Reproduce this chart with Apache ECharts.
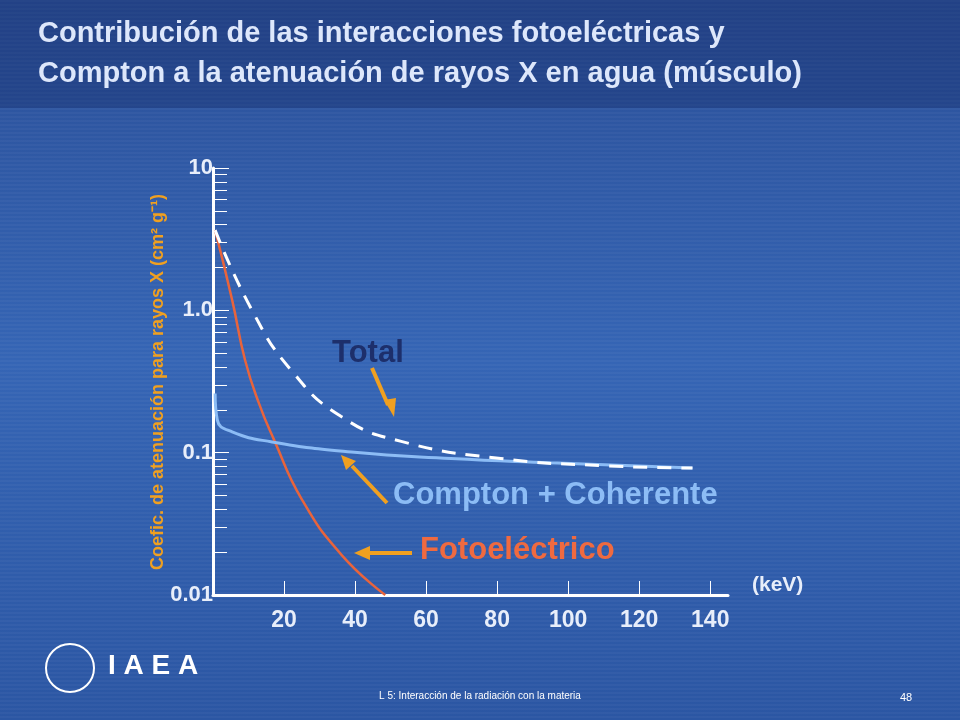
<!DOCTYPE html>
<html>
<head>
<meta charset="utf-8">
<script src="https://cdn.jsdelivr.net/npm/echarts@6/dist/echarts.min.js"></script>
<style>html,body{margin:0;padding:0;background:#2f5aa8;}#main{width:960px;height:720px;}</style>
</head>
<body>
<div id="main"></div>
<script>
// values (keV, cm2/g)
var fotoData = [[0.6, 3.66], [5.4, 1.18], [9, 0.45], [13, 0.22], [17.2, 0.123], [25, 0.047], [36.3, 0.019], [48.5, 0.01]];
var comptonData = [[0.6, 0.26], [1.2, 0.17], [5.4, 0.14], [16.6, 0.119], [39, 0.101], [67, 0.091], [95, 0.085], [135, 0.078]];
var totalData = [[0.6, 3.66], [11, 1.0], [22, 0.38], [36, 0.18], [53, 0.12], [81, 0.091], [110, 0.081], [135, 0.078]];
var yLabels = {10: '10', 1: '1.0', 0.1: '0.1', 0.01: '0.01'};

var FONT = 'Liberation Sans';
var chart = echarts.init(document.getElementById('main'));

function txt(x, y, s, color, size, extra) {
    var st = {text: s, fill: color, fontFamily: FONT, fontSize: size, fontWeight: 'bold'};
    for (var k in (extra || {})) st[k] = extra[k];
    return {type: 'text', x: x, y: y, style: st};
}

// striped background
var stripes = [];
for (var i = 0; i < 720; i += 4) {
    stripes.push({type: 'rect', shape: {x: 0, y: i, width: 960, height: 2}, style: {fill: 'rgba(255,255,255,0.035)'}, silent: true});
}

var yTitle = txt(158, 382, 'Coefic. de atenuación para rayos X (cm² g⁻¹)', '#f0a020', 18, {align: 'center', verticalAlign: 'middle'});
yTitle.rotation = Math.PI / 2;

var option = {
    backgroundColor: {
        type: 'linear', x: 0, y: 0, x2: 0, y2: 1,
        colorStops: [{offset: 0, color: '#2a4f98'}, {offset: 0.5, color: '#3565b5'}, {offset: 1, color: '#2b56a3'}]
    },
    grid: {left: 213, right: 232, top: 168, bottom: 125},
    xAxis: {
        type: 'value', min: 0, max: 145, interval: 20,
        axisLine: {lineStyle: {color: '#ffffff', width: 3}},
        axisTick: {inside: true, length: 14, lineStyle: {color: '#ffffff', width: 1}},
        axisLabel: {
            color: '#e8eefa', fontSize: 23, fontWeight: 'bold', fontFamily: FONT, margin: 14,
            formatter: function (v) { return v === 0 ? '' : v; }
        },
        splitLine: {show: false}
    },
    yAxis: {
        type: 'log', min: 0.01, max: 10, logBase: 10,
        axisLine: {show: true, lineStyle: {color: '#ffffff', width: 3}},
        axisTick: {inside: true, length: 16, lineStyle: {color: '#ffffff'}},
        minorTick: {show: true, splitNumber: 9, length: 14, lineStyle: {color: '#ffffff'}},
        axisLabel: {
            color: '#e8eefa', fontSize: 22, fontWeight: 'bold', fontFamily: FONT, margin: 0,
            formatter: function (v) { return yLabels[v] || ''; }
        },
        splitLine: {show: false}
    },
    series: [{
        name: 'Fotoeléctrico', type: 'line', smooth: true, symbol: 'none', data: fotoData,
        lineStyle: {color: '#e8643c', width: 2.5}
    }, {
        name: 'Compton + Coherente', type: 'line', smooth: true, symbol: 'none', data: comptonData,
        lineStyle: {color: '#8cbcf5', width: 3}
    }, {
        name: 'Total', type: 'line', smooth: true, symbol: 'none', data: totalData,
        lineStyle: {color: '#ffffff', width: 3, type: [14, 10]}
    }],
    graphic: stripes.concat([
        {type: 'rect', shape: {x: 0, y: 0, width: 960, height: 108}, style: {fill: 'rgba(20,40,100,0.35)'}, silent: true},
        txt(38, 14, 'Contribución de las interacciones fotoeléctricas y\nCompton a la atenuación de rayos X en agua (músculo)', '#dde7fb', 29, {lineHeight: 40}),
        yTitle,
        txt(752, 575, '(keV)', '#e8eefa', 21),
        txt(332, 338, 'Total', '#1d2f6b', 31),
        txt(393, 480, 'Compton + Coherente', '#8cbcf5', 31),
        txt(420, 535, 'Fotoeléctrico', '#ef6a40', 31),
        // arrows
        {type: 'line', shape: {x1: 372, y1: 368, x2: 388, y2: 405}, style: {stroke: '#f0a020', lineWidth: 4}},
        {type: 'polygon', shape: {points: [[384, 400], [396, 398], [394, 417]]}, style: {fill: '#f0a020'}},
        {type: 'line', shape: {x1: 387, y1: 503, x2: 352, y2: 466}, style: {stroke: '#f0a020', lineWidth: 4}},
        {type: 'polygon', shape: {points: [[346, 470], [356, 461], [341, 455]]}, style: {fill: '#f0a020'}},
        {type: 'line', shape: {x1: 412, y1: 553, x2: 368, y2: 553}, style: {stroke: '#f0a020', lineWidth: 4}},
        {type: 'polygon', shape: {points: [[370, 546], [370, 560], [354, 553]]}, style: {fill: '#f0a020'}},
        // footer
        {type: 'circle', shape: {cx: 70, cy: 668, r: 24}, style: {fill: 'none', stroke: '#ffffff', lineWidth: 2}},
        txt(108, 652, 'I A E A', '#ffffff', 28),
        {type: 'text', x: 480, y: 696, style: {text: 'L 5: Interacción de la radiación con la materia', fill: '#ffffff', fontFamily: FONT, fontSize: 10, align: 'center', verticalAlign: 'middle'}},
        {type: 'text', x: 900, y: 692, style: {text: '48', fill: '#ffffff', fontFamily: FONT, fontSize: 11}}
    ])
};
chart.setOption(option);
</script>
</body>
</html>
